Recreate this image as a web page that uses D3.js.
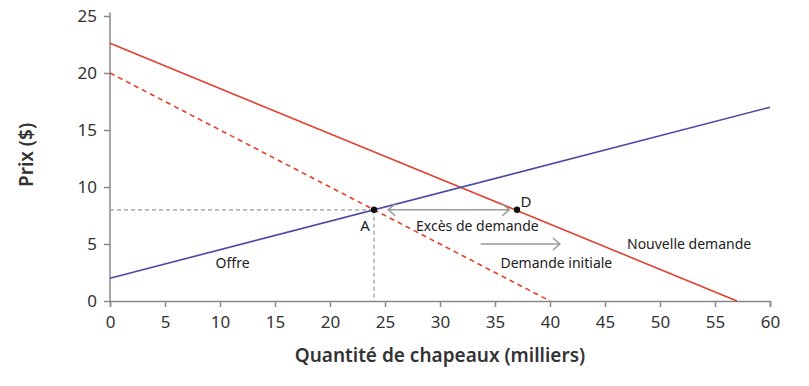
<!DOCTYPE html>
<html><head><meta charset="utf-8">
<script src="https://cdn.jsdelivr.net/npm/d3@7"></script>
<style>body{margin:0;background:#fff}svg{display:block}text{font-family:"Noto Sans",sans-serif}</style>
</head><body><svg id="c" width="809" height="386"></svg>
<script>
const xTicks = [0,5,10,15,20,25,30,35,40,45,50,55,60];
const yTicks = [0,5,10,15,20,25];
const supply = [[0,2],[60,17]];
const newDemand = [[0,22.6],[57,0]];
const initDemand = [[0,20],[40,0]];
const pointA = {q:24,p:8,label:"A"};
const pointD = {q:37,p:8,label:"D"};
const excess = [[25.3,8],[36.3,8]];
const shift = [[33.7,5.0],[40.9,5.0]];
const labels = [
  {t:"Excès de demande", q:33.4, p:6.5, a:"middle"},
  {t:"Demande initiale", q:35.5, p:3.2, a:"start"},
  {t:"Nouvelle demande", q:47.0, p:4.9, a:"start"},
  {t:"Offre", q:9.6, p:3.2, a:"start"}
];

const svg = d3.select("#c");
const x = d3.scaleLinear().domain([0,60]).range([110,770]);
const y = d3.scaleLinear().domain([0,25]).range([301,16]);
const axisCol = "#888";
const red = "#e2402f", blue = "#4b4ba6", grey = "#999";

const xa = svg.append("g").attr("transform","translate(0,301)")
  .call(d3.axisBottom(x).tickValues(xTicks).tickSize(6).tickPadding(5));
const ya = svg.append("g").attr("transform","translate(110,0)")
  .call(d3.axisLeft(y).tickValues(yTicks).tickSize(6).tickPadding(7));
[xa,ya].forEach(g=>{
  g.selectAll("path,line").attr("stroke",axisCol).attr("stroke-width",1.5);
  g.selectAll("text").attr("fill","#333").style("font-size","17px").style("font-family","'Noto Sans',sans-serif");
});
ya.select(".domain").attr("d","M0,12.5V301");
xa.selectAll("text").attr("dy","0.95em");

const line = d3.line().x(d=>x(d[0])).y(d=>y(d[1]));
// guides
svg.append("path").attr("d",line([[0,pointA.p],[pointA.q,pointA.p]])).attr("stroke",grey).attr("stroke-width",1.2).attr("stroke-dasharray","4,3").attr("fill","none");
svg.append("path").attr("d",line([[pointA.q,pointA.p],[pointA.q,0]])).attr("stroke",grey).attr("stroke-width",1.2).attr("stroke-dasharray","4,3").attr("fill","none");

svg.append("path").attr("d",line(initDemand)).attr("stroke",red).attr("stroke-width",1.6).attr("stroke-dasharray","5,4").attr("fill","none");
svg.append("path").attr("d",line(newDemand)).attr("stroke",red).attr("stroke-width",1.6).attr("fill","none");
svg.append("path").attr("d",line(supply)).attr("stroke",blue).attr("stroke-width",1.6).attr("fill","none");

// arrows
function arrowHead(px,py,dir){
  svg.append("path").attr("d",`M${px-dir*7},${py-6}L${px},${py}L${px-dir*7},${py+6}`)
    .attr("stroke","#999").attr("stroke-width",1.5).attr("fill","none");
}
const ex0=[x(excess[0][0]),y(excess[0][1])], ex1=[x(excess[1][0]),y(excess[1][1])];
svg.append("path").attr("d",line(excess)).attr("stroke","#999").attr("stroke-width",1.5);
arrowHead(ex0[0],ex0[1],-1); arrowHead(ex1[0],ex1[1],1);
const s1=[x(shift[1][0]),y(shift[1][1])];
svg.append("path").attr("d",line(shift)).attr("stroke","#999").attr("stroke-width",1.5);
arrowHead(s1[0],s1[1],1);

// points
[pointA,pointD].forEach(p=>{
  svg.append("circle").attr("cx",x(p.q)).attr("cy",y(p.p)).attr("r",3.2).attr("fill","#111");
});
svg.append("text").attr("x",x(pointA.q)-9).attr("y",y(pointA.p)+21).attr("text-anchor","middle").text(pointA.label).style("font-size","15px").attr("fill","#222");
svg.append("text").attr("x",x(pointD.q)+9).attr("y",y(pointD.p)-3).attr("text-anchor","middle").text(pointD.label).style("font-size","15px").attr("fill","#222");

labels.forEach(l=>{
  svg.append("text").attr("x",x(l.q)).attr("y",y(l.p)).attr("text-anchor",l.a).attr("dominant-baseline","middle")
    .text(l.t).style("font-size","14px").attr("fill","#222");
});

svg.append("text").attr("x",440).attr("y",362).attr("text-anchor","middle")
  .text("Quantité de chapeaux (milliers)").style("font-size","19px").style("font-weight","600").attr("fill","#333");
svg.append("text").attr("transform","translate(33,155) rotate(-90)").attr("text-anchor","middle")
  .text("Prix ($)").style("font-size","19px").style("font-weight","600").attr("fill","#333");
</script></body></html>
